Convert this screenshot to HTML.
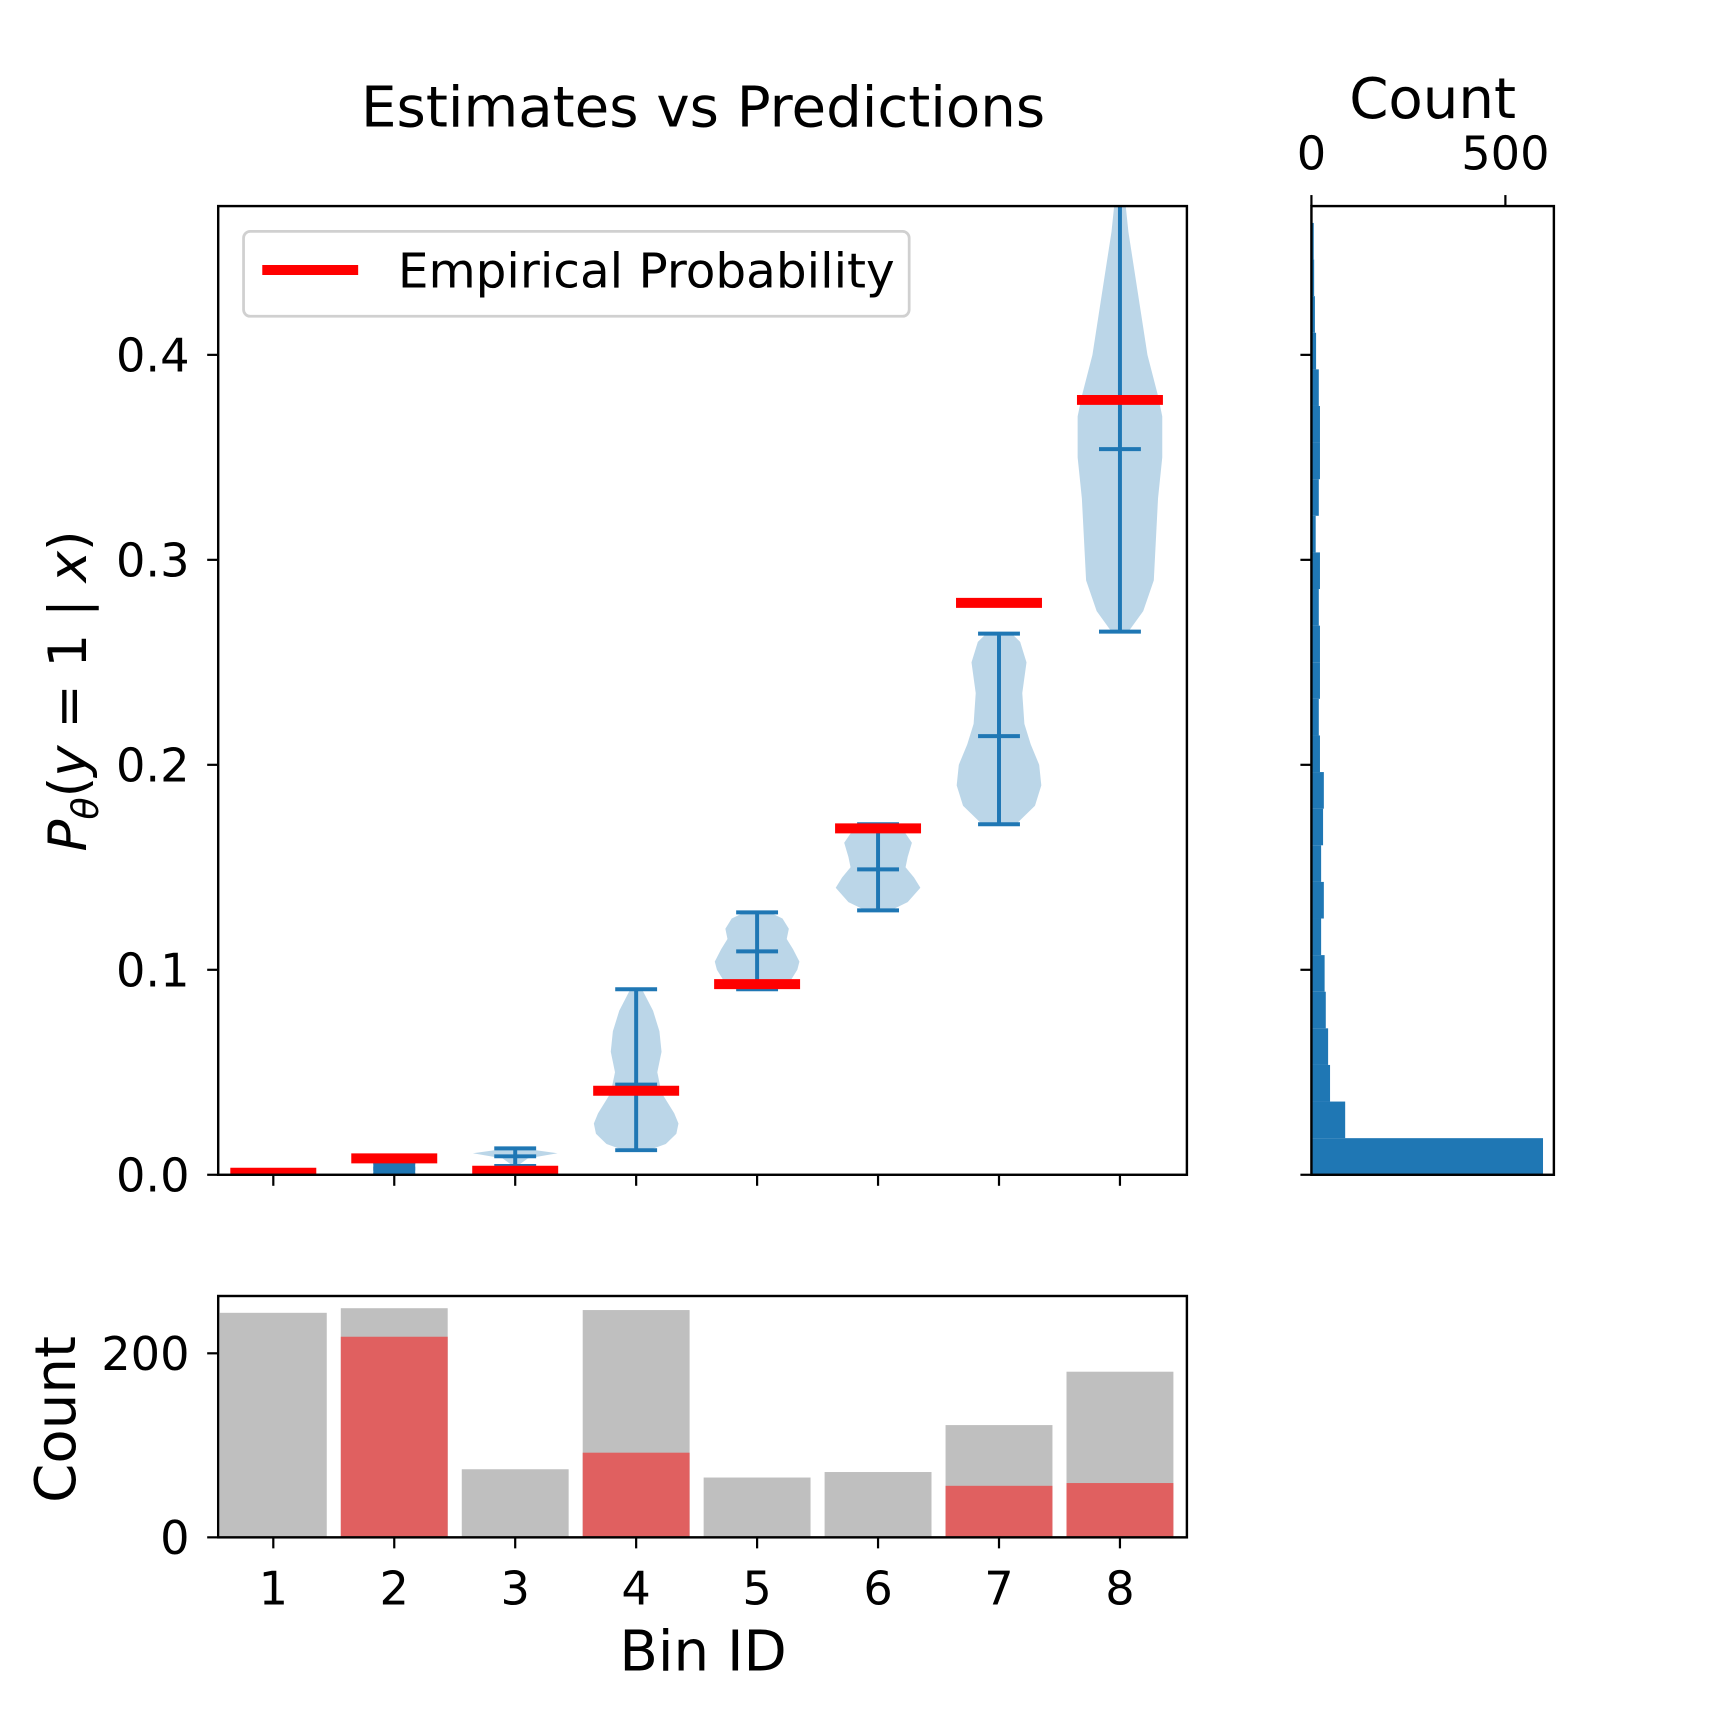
<!DOCTYPE html>
<html><head><meta charset="utf-8"><style>
html,body{margin:0;padding:0;background:#fff;}
svg{display:block;font-family:"DejaVu Sans","Liberation Sans",sans-serif;}
</style></head><body>
<svg id="chart" width="1728" height="1728" viewBox="0 0 1568 1568" xmlns="http://www.w3.org/2000/svg">
<defs><clipPath id="mainClip"><rect x="198" y="187" width="879" height="879"/></clipPath></defs>
<text x="638" y="115" font-size="51" text-anchor="middle">Estimates vs Predictions</text>
<text transform="translate(78,627) rotate(-90)" font-size="48" text-anchor="middle"><tspan font-style="italic">P</tspan><tspan font-style="italic" font-size="33" dy="11">θ</tspan><tspan dy="-11">(</tspan><tspan font-style="italic">y</tspan> = 1 | <tspan font-style="italic">x</tspan>)</text>
<text transform="translate(68,1288) rotate(-90)" font-size="51" text-anchor="middle">Count</text>
<text x="638" y="1516" font-size="51" text-anchor="middle">Bin ID</text>
<text x="1300" y="107" font-size="51" text-anchor="middle">Count</text>
<g id="main"></g>
<g id="bottom"></g>
<g id="side"></g>
</svg>
<script>
const bins = [1,2,3,4,5,6,7,8];
const empirical = [0.001,0.008,0.002,0.041,0.093,0.169,0.279,0.378];
const mins = [0.0,0.0,0.0043,0.012,0.0905,0.129,0.171,0.265];
const maxs = [0.0,0.006,0.0129,0.0905,0.128,0.171,0.264,0.50];
const means = [0.0,0.003,0.009,0.044,0.109,0.149,0.214,0.354];
const violinProfiles = [
  [],
  [],
  [[0.0043,0.05],[0.008,0.3],[0.0105,1],[0.0125,0.3],[0.0129,0.05]],
  [[0.012,0.3],[0.015,0.7],[0.02,0.95],[0.025,1.0],[0.03,0.9],[0.04,0.6],[0.05,0.5],[0.06,0.6],[0.07,0.55],[0.08,0.4],[0.09,0.15]],
  [[0.0905,0.3],[0.095,0.8],[0.1,0.95],[0.104,1],[0.11,0.85],[0.115,0.7],[0.12,0.75],[0.125,0.6],[0.128,0.3]],
  [[0.129,0.3],[0.133,0.7],[0.14,1],[0.145,0.85],[0.15,0.65],[0.155,0.7],[0.162,0.8],[0.168,0.6],[0.171,0.3]],
  [[0.171,0.4],[0.18,0.85],[0.19,1],[0.2,0.95],[0.21,0.75],[0.22,0.6],[0.235,0.55],[0.25,0.65],[0.26,0.5],[0.264,0.3]],
  [[0.265,0.2],[0.275,0.55],[0.29,0.8],[0.31,0.85],[0.33,0.9],[0.35,1],[0.37,1],[0.38,0.9],[0.4,0.65],[0.42,0.5],[0.44,0.35],[0.46,0.2],[0.48,0.1]]
];
const yTicks = [0.0,0.1,0.2,0.3,0.4];
const yTickLabels = ["0.0","0.1","0.2","0.3","0.4"];
const totalCounts = [244,249,74,247,65,71,122,180];
const positiveCounts = [0,218,0,92,0,0,56,59];
const countTicks = [0,200];
const sideBinWidth = 0.01786;
const sideCounts = [597,87,48,43,37,34,25,32,25,30,32,22,19,22,22,19,22,11,19,22,22,19,12,9,7,6];
const sideTicks = [0,500];

const NS="http://www.w3.org/2000/svg";
function mk(parent,tag,attrs){const e=document.createElementNS(NS,tag);for(const k in attrs)e.setAttribute(k,attrs[k]);parent.appendChild(e);return e;}
const X=i=>248+(i-1)*109.75;
const Y=v=>1066-v*1860;
const YC=c=>1395-c*0.835;
const XS=c=>1190+c*0.352;
const HW=38.4;
const main=document.getElementById('main');
const clip=mk(main,'g',{'clip-path':'url(#mainClip)'});
bins.forEach((b,i)=>{
  const cx=X(b);const prof=violinProfiles[i];
  if(prof.length){
    let pts=prof.map(p=>(cx+p[1]*HW)+','+Y(p[0]));
    pts=pts.concat(prof.slice().reverse().map(p=>(cx-p[1]*HW)+','+Y(p[0])));
    const v=mk(clip,'polygon',{points:pts.join(' '),fill:'#1f77b4','fill-opacity':0.3});
    
    
  }
  const st={stroke:'#1f77b4','stroke-width':3.6};
  if(maxs[i]>mins[i] && Y(mins[i])-Y(maxs[i])<14){
    const r=mk(clip,'rect',{x:cx-19,y:Y(maxs[i])-1.8,width:38,height:Y(mins[i])-Y(maxs[i])+3.6,fill:'#1f77b4'});
    
    
  }
  const l=mk(clip,'line',Object.assign({x1:cx,x2:cx,y1:Y(mins[i]),y2:Y(maxs[i])},st));
  
  
  [mins[i],maxs[i],means[i]].forEach(v=>{
    const c=mk(clip,'line',Object.assign({x1:cx-19,x2:cx+19,y1:Y(v),y2:Y(v)},st));
    
    
  });
});
bins.forEach((b,i)=>{
  const r=mk(clip,'line',{x1:X(b)-39,x2:X(b)+39,y1:Y(empirical[i]),y2:Y(empirical[i]),stroke:'#ff0000','stroke-width':9});
  
  
});
mk(main,'rect',{x:198,y:187,width:879,height:879,fill:'none',stroke:'#000','stroke-width':2.2});
yTicks.forEach((t,i)=>{
  mk(main,'line',{x1:188,x2:198,y1:Y(t),y2:Y(t),stroke:'#000','stroke-width':2});
  const tx=mk(main,'text',{x:172,y:Y(t)+15,'font-size':42,'text-anchor':'end'});tx.textContent=yTickLabels[i];
  
  
  mk(main,'line',{x1:1180,x2:1190,y1:Y(t),y2:Y(t),stroke:'#000','stroke-width':2});
});
bins.forEach(b=>mk(main,'line',{x1:X(b),x2:X(b),y1:1066,y2:1076,stroke:'#000','stroke-width':2}));
const lg=mk(main,'g',{});


mk(lg,'rect',{x:221,y:210,width:604,height:77,rx:6,fill:'#fff','fill-opacity':0.8,stroke:'#d0d0d0','stroke-width':2.5});
mk(lg,'line',{x1:238,x2:325,y1:245,y2:245,stroke:'#ff0000','stroke-width':9});
const lt=mk(lg,'text',{x:361,y:261,'font-size':44});lt.textContent='Empirical Probability';


const bot=document.getElementById('bottom');
bins.forEach((b,i)=>{
  const g=mk(bot,'rect',{x:X(b)-48.5,y:YC(totalCounts[i]),width:97,height:YC(0)-YC(totalCounts[i]),fill:'#bfbfbf'});
  
  
  if(positiveCounts[i]>0){
    const r=mk(bot,'rect',{x:X(b)-48.5,y:YC(positiveCounts[i]),width:97,height:YC(0)-YC(positiveCounts[i]),fill:'#e06060'});
    
    
  }
  mk(bot,'line',{x1:X(b),x2:X(b),y1:1395,y2:1405,stroke:'#000','stroke-width':2});
  const t=mk(bot,'text',{x:X(b),y:1456,'font-size':42,'text-anchor':'middle'});t.textContent=b;
  
  
});
mk(bot,'rect',{x:198,y:1176,width:879,height:219,fill:'none',stroke:'#000','stroke-width':2.2});
countTicks.forEach(c=>{
  mk(bot,'line',{x1:188,x2:198,y1:YC(c),y2:YC(c),stroke:'#000','stroke-width':2});
  const t=mk(bot,'text',{x:172,y:YC(c)+15,'font-size':42,'text-anchor':'end'});t.textContent=c;
  
  
});
const side=document.getElementById('side');
sideCounts.forEach((c,i)=>{
  const y0=Y(i*sideBinWidth),y1=Y((i+1)*sideBinWidth);
  const r=mk(side,'rect',{x:1190,y:y1,width:XS(c)-1190,height:y0-y1,fill:'#1f77b4'});
  
  
});
mk(side,'rect',{x:1190,y:187,width:220,height:879,fill:'none',stroke:'#000','stroke-width':2.2});
sideTicks.forEach(c=>{
  mk(side,'line',{x1:XS(c),x2:XS(c),y1:177,y2:187,stroke:'#000','stroke-width':2});
  const t=mk(side,'text',{x:XS(c),y:154,'font-size':42,'text-anchor':'middle'});t.textContent=c;
  
  
});
</script>
</body></html>
